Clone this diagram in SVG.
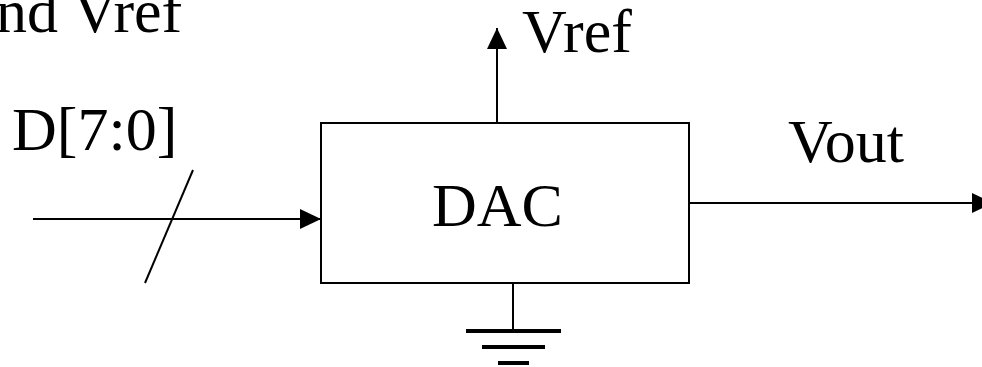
<svg xmlns="http://www.w3.org/2000/svg" width="982" height="367" viewBox="0 0 982 367">
<style>
.t{font-family:"Liberation Serif","Times New Roman",serif;font-size:62px;fill:#000}
.w{stroke:#000;stroke-width:2;fill:none}
.g{stroke:#000;stroke-width:4}
</style>
<defs>
<marker id="ah" markerWidth="21" markerHeight="20" refX="21" refY="10" orient="auto" markerUnits="userSpaceOnUse">
<path d="M0,0 L21,10 L0,20 Z" fill="#000"/>
</marker>
</defs>
<rect width="982" height="367" fill="#fff"/>
<text class="t" x="-4" y="32">nd Vref</text>
<g id="dac">
<rect x="321" y="123" width="368" height="160" class="w"/>
<text class="t" x="432" y="226">DAC</text>
</g>
<g id="vref-label"><text class="t" x="522" y="52">Vref</text></g>
<g id="d-label"><text class="t" x="12" y="150">D[7:0]</text></g>
<g id="vout-label"><text class="t" x="788" y="162">Vout</text></g>
<g id="ground">
<line x1="513" y1="283" x2="513" y2="331" class="w"/>
<line x1="466" y1="331" x2="561" y2="331" class="g"/>
<line x1="482" y1="347" x2="545" y2="347" class="g"/>
<line x1="498" y1="363" x2="529" y2="363" class="g"/>
</g>
<g id="connectors">
<line x1="33" y1="219" x2="321" y2="219" class="w" marker-end="url(#ah)"/>
<line x1="193" y1="170" x2="145" y2="283" class="w"/>
<line x1="497" y1="123" x2="497" y2="28" class="w" marker-end="url(#ah)"/>
<line x1="689" y1="203" x2="993" y2="203" class="w" marker-end="url(#ah)"/>
</g>
</svg>
